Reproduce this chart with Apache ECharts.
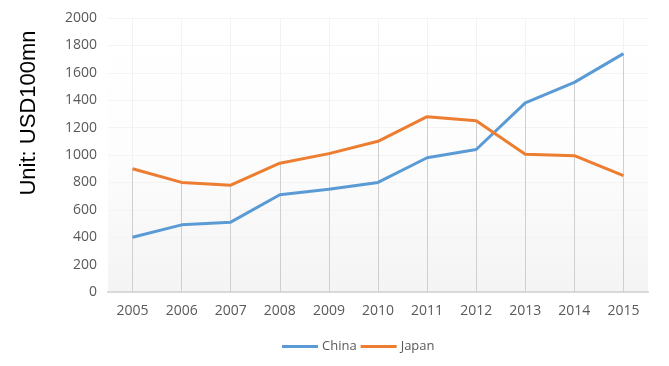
<!DOCTYPE html>
<html>
<head>
<meta charset="utf-8">
<script src="https://cdn.jsdelivr.net/npm/echarts@6/dist/echarts.min.js"></script>
<style>html,body{margin:0;padding:0;background:#fff}#c{width:669px;height:366px}</style>
</head>
<body>
<div id="c"></div>
<script>
var years = ['2005','2006','2007','2008','2009','2010','2011','2012','2013','2014','2015'];
var china = [400, 490, 510, 710, 750, 800, 980, 1040, 1380, 1530, 1740];
var japan = [900, 800, 780, 940, 1010, 1100, 1280, 1250, 1005, 995, 850];
var yTicks = [0, 200, 400, 600, 800, 1000, 1200, 1400, 1600, 1800, 2000];
var unitLabel = 'Unit: USD100mn';

var dropLines = years.map(function (y, i) {
  return [{ coord: [y, 0] }, { coord: [y, Math.max(china[i], japan[i])] }];
});

var chart = echarts.init(document.getElementById('c'));
chart.setOption({
  animation: false,
  backgroundColor: '#ffffff',
  grid: {
    left: 108, right: 21, top: 18, bottom: 74,
    show: true, borderWidth: 0,
    backgroundColor: new echarts.graphic.LinearGradient(0, 0, 0, 1, [
      {offset: 0, color: '#ffffff'}, {offset: 0.5, color: '#fdfdfd'}, {offset: 1, color: '#f4f4f4'}
    ])
  },
  graphic: [{
    type: 'text', x: 29, y: 113, rotation: Math.PI / 2,
    style: { text: unitLabel, font: '22px "Liberation Sans", Arial, sans-serif', fill: '#000', align: 'center', verticalAlign: 'middle' }
  }],
  legend: {
    data: ['China', 'Japan'], top: 340, left: 282, padding: 0,
    icon: 'rect', itemWidth: 36, itemHeight: 3, itemGap: 4,
    textStyle: { color: '#595959', fontSize: 13, fontFamily: 'Open Sans', padding: [0, 0, 0, -1] }
  },
  xAxis: {
    type: 'category', data: years, boundaryGap: true,
    axisLine: { lineStyle: { color: '#d9d9d9', width: 2 } },
    axisTick: { show: false },
    axisLabel: { color: '#595959', fontSize: 14, fontFamily: 'Open Sans', margin: 12 },
    splitLine: { show: false }
  },
  yAxis: {
    type: 'value', min: yTicks[0], max: yTicks[yTicks.length - 1], interval: yTicks[1] - yTicks[0],
    axisLine: { show: false }, axisTick: { show: false },
    axisLabel: { color: '#595959', fontSize: 14, fontFamily: 'Open Sans', margin: 11, formatter: function (v) { return String(v); } },
    splitLine: { lineStyle: { color: '#f4f4f4' } }
  },
  series: [
    {
      name: 'China', type: 'line', data: china, symbol: 'none', z: 3,
      lineStyle: { color: '#5b9bd5', width: 3 }, itemStyle: { color: '#5b9bd5' },
      markLine: {
        silent: true, symbol: 'none', label: { show: false }, z: 1,
        lineStyle: { color: '#f2f2f2', type: 'solid', width: 1 },
        data: years.map(function (y) { return { xAxis: y }; })
      }
    },
    {
      name: 'Japan', type: 'line', data: japan, symbol: 'none', z: 3,
      lineStyle: { color: '#ed7d31', width: 3 }, itemStyle: { color: '#ed7d31' },
      markLine: {
        silent: true, symbol: 'none', label: { show: false }, z: 1,
        lineStyle: { color: '#cfcfcf', type: 'solid', width: 1 },
        data: dropLines
      }
    }
  ]
});
</script>
</body>
</html>
